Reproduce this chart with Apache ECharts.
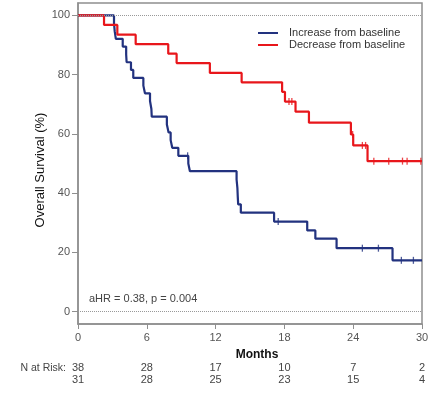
<!DOCTYPE html>
<html>
<head>
<meta charset="utf-8">
<script src="https://cdn.jsdelivr.net/npm/echarts@6/dist/echarts.min.js"></script>
<style>
  html, body { margin: 0; padding: 0; background: #fff; }
  #main { width: 440px; height: 396px; }
</style>
</head>
<body>
<div id="main"></div>
<script>
// Increase from baseline (blue), KM steps
var incTime = [0, 3.14, 3.2, 3.3, 3.9, 4.2, 4.24, 4.62, 4.82, 5.7, 5.84, 6.28, 6.4, 6.43, 7.75, 7.9, 8.08, 8.22, 8.75, 9.62, 9.76, 13.83, 13.9, 13.93, 13.97, 14.2, 17.1, 19.99, 20.7, 22.55, 27.43, 30];
var incSurv = [100, 97.4, 94.7, 92.1, 89.5, 86.8, 84.2, 81.6, 78.9, 76.3, 73.7, 71.1, 68.4, 65.8, 63.2, 60.5, 57.9, 55.3, 52.6, 50.0, 47.4, 44.6, 41.8, 39.0, 36.2, 33.4, 30.4, 27.4, 24.6, 21.4, 17.3, 17.3];
var incCensorTime = [9.56, 17.46, 24.8, 26.2, 28.2, 29.25];
var incCensorSurv = [52.6, 30.4, 21.4, 21.4, 17.3, 17.3];

// Decrease from baseline (red)
var decTime = [0, 2.27, 3.43, 5.03, 7.87, 8.6, 11.5, 14.27, 17.8, 18.05, 18.97, 20.14, 23.8, 24.0, 25.25, 30];
var decSurv = [100, 96.8, 93.5, 90.3, 87.1, 83.9, 80.6, 77.4, 74.2, 70.9, 67.5, 63.8, 59.8, 56.1, 50.8, 50.8];
var decCensorTime = [18.4, 18.65, 23.95, 24.8, 25.08, 25.8, 27.1, 28.3, 28.7, 29.9];
var decCensorSurv = [70.9, 70.9, 59.8, 56.1, 56.1, 50.8, 50.8, 50.8, 50.8, 50.8];

// number at risk under the x ticks
var riskTicks = [0, 6, 12, 18, 24, 30];
var riskIncrease = [38, 28, 17, 10, 7, 2];
var riskDecrease = [31, 28, 25, 23, 15, 4];
var yTicks = [0, 20, 40, 60, 80, 100];

var blue = '#22327f';
var red = '#e8161b';
var axisGray = '#8f8f8f';
var font = 'Liberation Sans, Arial, sans-serif';

var zip = function (a, b) {
    var out = [];
    for (var i = 0; i < a.length; i++) {
        out.push([a[i], b[i]]);
    }
    return out;
};

var riskLabel = function (arr) {
    return function (v) {
        var i = riskTicks.indexOf(v);
        return i === -1 ? '' : String(arr[i]);
    };
};

var riskAxis = function (arr, offset) {
    return {
        type: 'value', gridIndex: 0, position: 'bottom', offset: offset,
        min: 0, max: 30, interval: 6,
        axisLine: { show: false }, axisTick: { show: false }, splitLine: { show: false },
        axisLabel: { formatter: riskLabel(arr), color: '#444', fontSize: 11, fontFamily: font, margin: 8 }
    };
};

var myChart = echarts.init(document.getElementById('main'), null, { renderer: 'canvas' });

var option = {
    animation: false,
    backgroundColor: '#fff',
    grid: {
        left: 78, right: 18, top: 3, bottom: 72,
        show: true, borderColor: axisGray, borderWidth: 1.5
    },
    legend: {
        data: ['Increase from baseline', 'Decrease from baseline'],
        orient: 'vertical',
        left: 253, top: 22,
        icon: 'rect', itemWidth: 20, itemHeight: 2, itemGap: 0,
        textStyle: { color: '#333', fontSize: 11, fontFamily: font, lineHeight: 12, padding: [0, 0, 0, 6] }
    },
    xAxis: [
        {
            type: 'value', min: 0, max: 30, interval: 6,
            name: 'Months', nameLocation: 'middle', nameGap: 25, nameMoveOverlap: false,
            nameTextStyle: { color: '#111', fontSize: 12, fontWeight: 'bold', fontFamily: font, padding: [0, 0, 0, 14] },
            axisLine: { onZero: false, lineStyle: { color: axisGray, width: 1.5 } },
            axisTick: { inside: false, length: 5, lineStyle: { color: axisGray } },
            splitLine: { show: false },
            axisLabel: { inside: false, color: '#555', fontSize: 11, fontFamily: font, margin: 8 }
        },
        riskAxis(riskIncrease, 30.5),
        riskAxis(riskDecrease, 42.5)
    ],
    yAxis: {
        type: 'value', min: -4.2, max: 104.2,
        name: 'Overall Survival (%)', nameLocation: 'middle', nameGap: 31, nameRotate: 90, nameMoveOverlap: false,
        nameTextStyle: { color: '#111', fontSize: 13, fontFamily: font, padding: [0, 13, 0, 0] },
        axisLine: { onZero: false, lineStyle: { color: axisGray, width: 1.5 } },
        axisTick: { inside: false, length: 6, customValues: yTicks, lineStyle: { color: axisGray } },
        splitLine: { show: false },
        axisLabel: { customValues: yTicks, color: '#555', fontSize: 11, fontFamily: font, margin: 8 }
    },
    graphic: [
        {
            type: 'text', left: 89, top: 293,
            style: { text: 'aHR = 0.38, p = 0.004', fill: '#444', fontSize: 11, fontFamily: font }
        },
        {
            type: 'text', right: 374, top: 363,
            style: { text: 'N at Risk:', fill: '#444', fontSize: 10.5, fontFamily: font }
        }
    ],
    series: [
        {
            name: 'Increase from baseline', type: 'line', step: 'end',
            data: zip(incTime, incSurv), showSymbol: false, symbol: 'none',
            color: blue, lineStyle: { color: blue, width: 2.2 }, z: 3,
            markLine: {
                silent: true, symbol: 'none', label: { show: false },
                lineStyle: { color: '#999', type: 'dotted', width: 1 },
                data: [{ yAxis: 100 }, { yAxis: 0 }]
            }
        },
        {
            name: 'Decrease from baseline', type: 'line', step: 'end',
            data: zip(decTime, decSurv), showSymbol: false, symbol: 'none',
            color: red, lineStyle: { color: red, width: 2.2 }, z: 4
        },
        {
            name: 'inc censored', type: 'scatter', data: zip(incCensorTime, incCensorSurv),
            symbol: 'rect', symbolSize: [1.3, 7], itemStyle: { color: blue }, z: 5
        },
        {
            name: 'dec censored', type: 'scatter', data: zip(decCensorTime, decCensorSurv),
            symbol: 'rect', symbolSize: [1.3, 7], itemStyle: { color: red }, z: 5
        }
    ]
};

myChart.setOption(option);
</script>
</body>
</html>
